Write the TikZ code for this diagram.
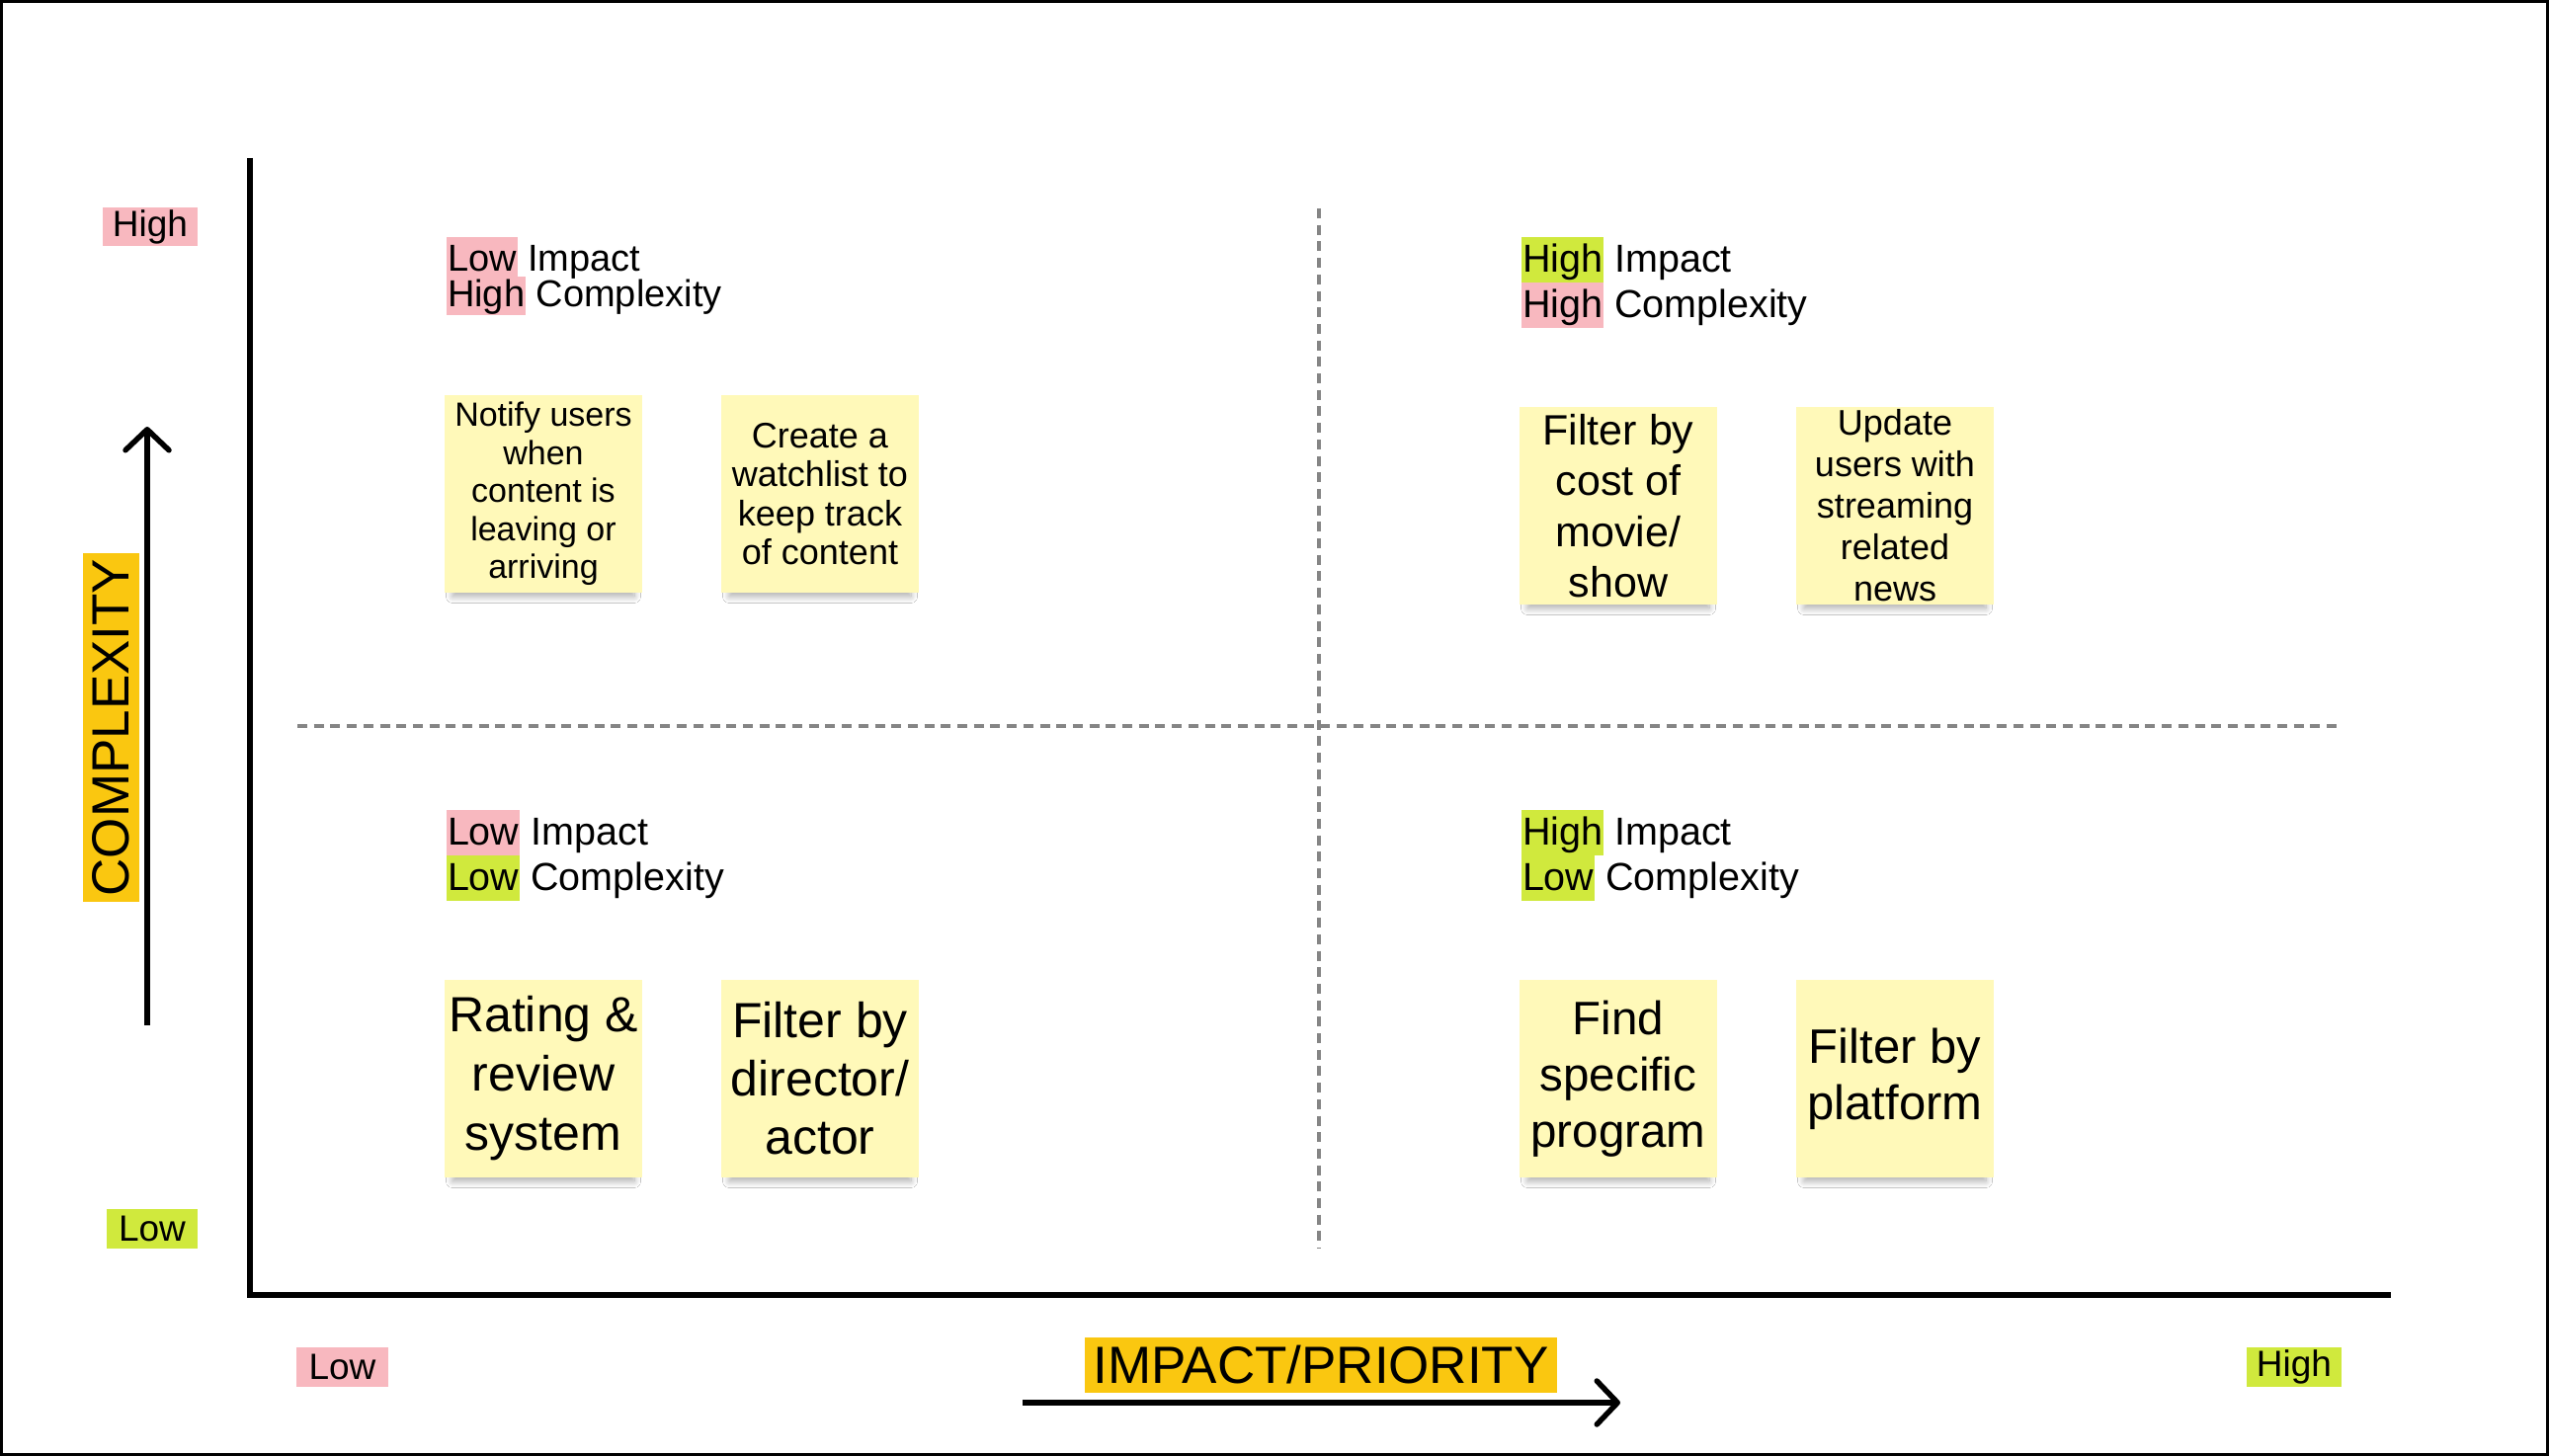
\documentclass[tikz,border=0pt]{standalone}
\usepackage{fontspec}
\setmainfont{Liberation Sans}
\usetikzlibrary{arrows.meta,shadows.blur}

\definecolor{stickyfill}{HTML}{FFF9B9}
\definecolor{hlpink}{HTML}{F8B8BF}
\definecolor{hlgreen}{HTML}{D0E93D}
\definecolor{axisyellow}{HTML}{FAC710}
\definecolor{gridgray}{HTML}{858585}

% highlighted word: colour, strut height, strut depth, word
\newcommand{\hlword}[4]{{\setlength{\fboxsep}{0pt}\colorbox{#1}{\rule[-#3]{0pt}{\dimexpr#2+#3\relax}\kern1pt #4\kern1pt}}}
\newcommand{\fsz}[2]{\fontsize{#1pt}{#2pt}\selectfont}

\tikzset{
  sticky/.style={fill=stickyfill, minimum width=200pt, minimum height=200pt,
    inner sep=0pt, align=center,
    blur shadow={shadow xshift=0pt, shadow yshift=-13pt, shadow opacity=32,
      shadow blur radius=7pt, shadow blur steps=12, shadow scale=0.92}},
  quad/.style={anchor=north west, inner sep=0pt, outer sep=0pt},
  endlabel/.style={inner sep=0pt, font=\fsz{37}{44}},
  axistitle/.style={fill=axisyellow, inner sep=0pt, font=\fsz{53}{60}},
  gridline/.style={draw=gridgray, line width=3.5pt, dash pattern=on 10pt off 6.7pt},
  axisarrow/.style={line width=5.5pt, -{Straight Barb[length=21pt,width=44pt,line cap=round,line join=round]}},
}

\begin{document}
\begin{tikzpicture}[x=1pt, y=-1pt]
  \useasboundingbox (0,0) rectangle (2580,1474);
  \fill[white] (0,0) rectangle (2580,1474);
  \draw[line width=3pt] (1.5,1.5) rectangle (2578.5,1472.5);

  % axes
  \coordinate (axtop) at (253,160);
  \coordinate (axorigin) at (253,1311);
  \coordinate (axright) at (2420,1311);
  \draw[line width=6pt, line join=miter] (axtop) -- (axorigin) -- (axright);

  % quadrant separators
  \coordinate (vtop) at (1335,211);
  \coordinate (vbot) at (1335,1264);
  \coordinate (hleft) at (301,735);
  \coordinate (hright) at (2369,735);
  \draw[gridline] (vtop) -- (vbot);
  \draw[gridline] (hleft) -- (hright);

  % axis end labels
  \node[endlabel, fill=hlpink, minimum width=96pt, minimum height=39pt] (yhigh) at (152,229.5) {High};
  \node[endlabel, fill=hlgreen, minimum width=92pt, minimum height=40pt] (ylow) at (154,1244) {Low};
  \node[endlabel, fill=hlpink, minimum width=93pt, minimum height=40pt] (xlow) at (346.5,1384) {Low};
  \node[endlabel, fill=hlgreen, minimum width=96pt, minimum height=40pt] (xhigh) at (2322,1384) {High};

  % axis titles and direction arrows
  \node[axistitle, rotate=90, minimum width=353pt, minimum height=57pt] (ytitle) at (112.5,736.5) {COMPLEXITY};
  \node[axistitle, minimum width=478pt, minimum height=56pt] (xtitle) at (1337,1382) {IMPACT/PRIORITY};
  \coordinate (upfrom) at (149,1038);
  \coordinate (upto) at (149,432);
  \draw[axisarrow] (upfrom) -- (upto);
  \coordinate (rightfrom) at (1035,1420);
  \coordinate (rightto) at (1640,1420);
  \draw[axisarrow] (rightfrom) -- (rightto);

  % quadrant headings
  \node[quad, font=\fsz{38}{40}] (tlimpact) at (452,240) {\hlword{hlpink}{34pt}{6pt}{Low} Impact};
  \node[quad, font=\fsz{38}{40}] (tlcomplex) at (452,280) {\hlword{hlpink}{30pt}{9pt}{High} Complexity};
  \node[quad, font=\fsz{39.5}{46}] (trimpact) at (1540,240) {\hlword{hlgreen}{35pt}{11pt}{High} Impact};
  \node[quad, font=\fsz{39.5}{46}] (trcomplex) at (1540,286) {\hlword{hlpink}{35pt}{11pt}{High} Complexity};
  \node[quad, font=\fsz{39.5}{46}] (blimpact) at (452,820) {\hlword{hlpink}{35pt}{11pt}{Low} Impact};
  \node[quad, font=\fsz{39.5}{46}] (blcomplex) at (452,866) {\hlword{hlgreen}{35pt}{11pt}{Low} Complexity};
  \node[quad, font=\fsz{39.5}{46}] (brimpact) at (1540,820) {\hlword{hlgreen}{35pt}{11pt}{High} Impact};
  \node[quad, font=\fsz{39.5}{46}] (brcomplex) at (1540,866) {\hlword{hlgreen}{35pt}{11pt}{Low} Complexity};

  % sticky notes
  \node[sticky, font=\fsz{34}{38.5}] (notify) at (550,500) {Notify users\\when\\content is\\leaving or\\arriving};
  \node[sticky, font=\fsz{36}{39.5}] (watchlist) at (830,500) {Create a\\watchlist to\\keep track\\of content};
  \node[sticky, font=\fsz{43}{51.5}] (cost) at (1638,512) {Filter by\\cost of\\movie/\\show};
  \node[sticky, font=\fsz{36}{42}] (news) at (1918,512) {Update\\users with\\streaming\\related\\news};
  \node[sticky, font=\fsz{50}{60}] (rating) at (550,1092) {Rating \&\\review\\system};
  \node[sticky, font=\fsz{50}{59}] (director) at (830,1092) {Filter by\\director/\\actor};
  \node[sticky, font=\fsz{47.5}{57}] (find) at (1638,1092) {Find\\specific\\program};
  \node[sticky, font=\fsz{49}{57}] (platform) at (1918,1092) {Filter by\\platform};
\end{tikzpicture}
\end{document}
